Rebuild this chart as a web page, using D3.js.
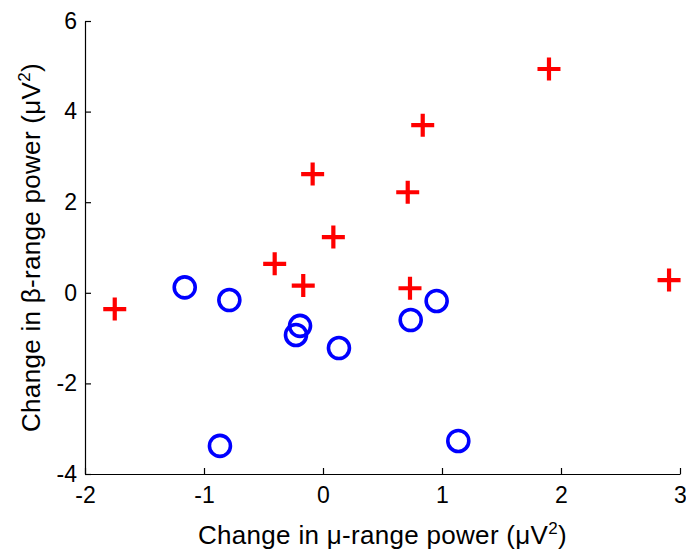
<!DOCTYPE html>
<html>
<head>
<meta charset="utf-8">
<script src="https://cdn.jsdelivr.net/npm/d3@7"></script>
<style>
  body { margin: 0; background: #fff; }
  svg { display: block; }
</style>
</head>
<body>
<div id="chart"></div>
<script>
// red pluses
const plusX = [-1.75, -0.406, -0.166, -0.087, 0.087, 0.712, 0.731, 0.838, 1.899, 2.908];
const plusY = [-0.36, 0.64, 0.16, 2.62, 1.23, 2.22, 0.10, 3.70, 4.94, 0.28];

// blue circles
const circX = [-1.162, -0.787, -0.866, -0.227, -0.193, 0.134, 0.737, 0.955, 1.137];
const circY = [0.12, -0.16, -3.38, -0.93, -0.73, -1.22, -0.60, -0.18, -3.27];

const xTicks = [-2, -1, 0, 1, 2, 3];
const yTicks = [-4, -2, 0, 2, 4, 6];

const W = 686, H = 550;
const margin = {top: 21, right: 6, bottom: 76, left: 85};

const svg = d3.select("#chart").append("svg")
    .attr("width", W)
    .attr("height", H);

const x = d3.scaleLinear().domain([-2, 3]).range([margin.left, W - margin.right]);
const y = d3.scaleLinear().domain([-4, 6]).range([H - margin.bottom, margin.top]);

const font = "'Liberation Sans', Arial, sans-serif";

// axes, ticks pointing inward
const xAxis = svg.append("g")
    .attr("transform", `translate(0,${y(-4)})`)
    .call(d3.axisBottom(x).tickValues(xTicks).tickSizeInner(-6).tickSizeOuter(0).tickPadding(13)
        .tickFormat(d3.format("d")));

const yAxis = svg.append("g")
    .attr("transform", `translate(${x(-2)},0)`)
    .call(d3.axisLeft(y).tickValues(yTicks).tickSizeInner(-6).tickSizeOuter(0).tickPadding(8)
        .tickFormat(d3.format("d")));

[xAxis, yAxis].forEach(a => {
    a.select(".domain").attr("stroke", "#000").attr("stroke-width", 1.2);
    a.selectAll(".tick line").attr("stroke", "#000").attr("stroke-width", 1.2);
    a.selectAll(".tick text")
        .attr("fill", "#000")
        .style("font-family", font)
        .style("font-size", "23px")
        .text(d => d < 0 ? "-" + Math.abs(d) : d);
});

// axis titles
const xTitle = svg.append("text")
    .attr("x", (x(-2) + x(3)) / 2)
    .attr("y", 544)
    .attr("text-anchor", "middle")
    .style("font-family", font)
    .style("font-size", "26px")
    .style("letter-spacing", "0.3px");
xTitle.append("tspan").text("Change in \u03bc-range power (\u03bcV");
xTitle.append("tspan").attr("dy", -10).style("font-size", "17px").text("2");
xTitle.append("tspan").attr("dy", 10).text(")");

const yTitle = svg.append("text")
    .attr("transform", `translate(40,${(y(-4) + y(6)) / 2}) rotate(-90)`)
    .attr("text-anchor", "middle")
    .style("font-family", font)
    .style("font-size", "26px")
    .style("letter-spacing", "0.3px");
yTitle.append("tspan").text("Change in \u03b2-range power (\u03bcV");
yTitle.append("tspan").attr("dy", -10).style("font-size", "17px").text("2");
yTitle.append("tspan").attr("dy", 10).text(")");

// marks
const circles = circX.map((d, i) => ({x: d, y: circY[i]}));
const pluses = plusX.map((d, i) => ({x: d, y: plusY[i]}));

svg.append("g").selectAll("circle")
    .data(circles)
    .enter()
    .append("circle")
    .attr("cx", d => x(d.x))
    .attr("cy", d => y(d.y))
    .attr("r", 10.5)
    .attr("fill", "none")
    .attr("stroke", "#0000ff")
    .attr("stroke-width", 3.6);

svg.append("g").selectAll("path")
    .data(pluses)
    .enter()
    .append("path")
    .attr("transform", d => `translate(${x(d.x)},${y(d.y)})`)
    .attr("d", "M-11.5,0H11.5M0,-11.5V11.5")
    .attr("stroke", "#ff0000")
    .attr("stroke-width", 4.2)
    .attr("fill", "none");
</script>
</body>
</html>
